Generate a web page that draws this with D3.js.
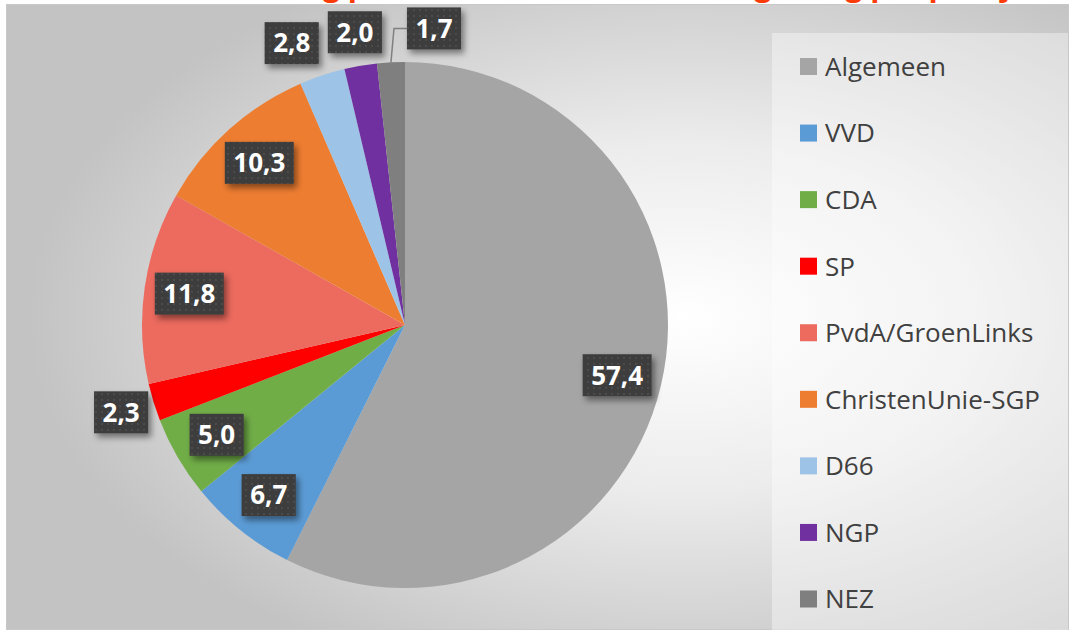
<!DOCTYPE html>
<html>
<head>
<meta charset="utf-8">
<script src="https://cdn.jsdelivr.net/npm/d3@7"></script>
<style>
  html, body { margin: 0; padding: 0; background: #ffffff; overflow: hidden; }
  svg { display: block; }
</style>
</head>
<body>
<svg id="chart" width="1070" height="632"></svg>
<script>
// ---- data ----
const categories = ["Algemeen", "VVD", "CDA", "SP", "PvdA/GroenLinks", "ChristenUnie-SGP", "D66", "NGP", "NEZ"];
const values = [57.4, 6.7, 5.0, 2.3, 11.8, 10.3, 2.8, 2.0, 1.7];
const colors = ["#a5a5a5", "#5b9bd5", "#70ad47", "#ff0000", "#ec6a5e", "#ed7d31", "#9dc3e6", "#7030a0", "#7f7f7f"];
const labelTexts = ["57,4", "6,7", "5,0", "2,3", "11,8", "10,3", "2,8", "2,0", "1,7"];
const titleText = "Verdeling politieke aandacht in de begroting per partij";

const W = 1070, H = 632;
const svg = d3.select("#chart");
const defs = svg.append("defs");

// background radial gradient
const bg = defs.append("radialGradient").attr("id", "bgGrad")
  .attr("cx", "0.64").attr("cy", "0.5").attr("r", "0.62");
bg.append("stop").attr("offset", "0").attr("stop-color", "#ffffff");
bg.append("stop").attr("offset", "0.45").attr("stop-color", "#ececec");
bg.append("stop").attr("offset", "1").attr("stop-color", "#c3c3c3");

// dotted pattern for label boxes
const pat = defs.append("pattern").attr("id", "dots").attr("patternUnits", "userSpaceOnUse")
  .attr("width", 6).attr("height", 6);
pat.append("rect").attr("width", 6).attr("height", 6).attr("fill", "#3d3d3d");
pat.append("rect").attr("x", 2).attr("y", 2).attr("width", 2).attr("height", 2).attr("fill", "#4b4b4b");

// shadow
const f = defs.append("filter").attr("id", "shadow").attr("x", "-30%").attr("y", "-30%").attr("width", "170%").attr("height", "170%");
f.append("feDropShadow").attr("dx", 3).attr("dy", 4).attr("stdDeviation", 3)
  .attr("flood-color", "#000").attr("flood-opacity", 0.45);

// title (mostly cut off at the top, as in the reference)
svg.append("text").attr("x", 604).attr("y", -4)
  .attr("text-anchor", "middle")
  .style("font-family", "'Open Sans', sans-serif").style("font-weight", "bold")
  .style("font-size", "30px").attr("fill", "#fa3c0a").text(titleText);

// chart area
svg.append("rect").attr("x", 6.5).attr("y", 4.5).attr("width", 1062).attr("height", 625)
  .attr("fill", "url(#bgGrad)").attr("stroke", "#c8c8c8").attr("stroke-width", 1);

// legend box
const legX = 772, legY = 33;
svg.append("rect").attr("x", legX).attr("y", legY).attr("width", 1068 - legX).attr("height", 630 - legY)
  .attr("fill", "#ffffff").attr("fill-opacity", 0.38);

const legendScale = d3.scalePoint().domain(categories).range([66.5, 599]);
const leg = svg.append("g").selectAll("g").data(categories).join("g")
  .attr("transform", d => `translate(0,${legendScale(d)})`);
leg.append("rect").attr("x", 800).attr("y", -8.5).attr("width", 17).attr("height", 17)
  .attr("fill", (d, i) => colors[i]);
leg.append("text").attr("x", 825).attr("y", 0).attr("dy", "0.36em")
  .style("font-family", "'Open Sans', sans-serif").style("font-size", "26px")
  .attr("fill", "#404040").text(d => d);

// pie
const cx = 405, cy = 325, R = 263;
const pie = d3.pie().sort(null).value(d => d.value);
const data = categories.map((c, i) => ({ name: c, value: values[i], color: colors[i], label: labelTexts[i] }));
const arcs = pie(data);
const arc = d3.arc().innerRadius(0).outerRadius(R);

const g = svg.append("g").attr("transform", `translate(${cx},${cy})`);
g.selectAll("path").data(arcs).join("path")
  .attr("d", arc).attr("fill", d => d.data.color);

// labels: compute boxes first
const inArc = d3.arc().innerRadius(218).outerRadius(218);
const outArc = d3.arc().innerRadius(297).outerRadius(297);
const edgeArc = d3.arc().innerRadius(R).outerRadius(R);
const LFS = "26px";

const lg = g.append("g");
const measure = lg.append("text")
  .style("font-family", "'Open Sans', sans-serif").style("font-weight", "bold")
  .style("font-size", LFS);
const boxes = arcs.map(a => {
  const outside = a.data.value < 3;
  const [x, y] = (outside ? outArc : inArc).centroid(a);
  measure.text(a.data.label);
  const w = measure.node().getComputedTextLength() + 17, h = 42;
  return { a, outside, x: x - w / 2, y: y - h / 2, w, h, moved: false, leader: false };
});
measure.remove();

const overlap = (p, q) => p.x < q.x + q.w && p.x + p.w > q.x && p.y < q.y + q.h && p.y + p.h > q.y;
const outs = boxes.filter(b => b.outside);
for (let i = 1; i < outs.length; i++) {
  const prev = outs[i - 1], cur = outs[i];
  if (!overlap(prev, cur)) continue;
  const trial = { ...prev, x: cur.x - 9 - prev.w };
  const blocked = outs.slice(0, i - 1).some(o => overlap(o, trial));
  if (!prev.moved && !blocked) {
    prev.x = trial.x; prev.moved = true;
  } else {
    cur.x = prev.x + prev.w + 25; cur.moved = true; cur.leader = true;
  }
}

boxes.forEach(b => {
  if (b.leader) {
    const [ex, ey] = edgeArc.centroid(b.a);
    lg.append("polyline")
      .attr("points", `${ex},${ey} ${ex + 3},${b.y + b.h / 2} ${b.x},${b.y + b.h / 2}`)
      .attr("fill", "none").attr("stroke", "#808080").attr("stroke-width", 1.5);
  }
});
boxes.forEach(b => {
  lg.append("rect").attr("x", b.x).attr("y", b.y).attr("width", b.w).attr("height", b.h)
    .attr("fill", "url(#dots)").attr("filter", "url(#shadow)");
  lg.append("text").attr("x", b.x + b.w / 2).attr("y", b.y + b.h / 2).attr("dy", "0.36em")
    .attr("text-anchor", "middle")
    .style("font-family", "'Open Sans', sans-serif").style("font-weight", "bold")
    .style("font-size", LFS).attr("fill", "#ffffff").text(b.a.data.label);
});
</script>
</body>
</html>
